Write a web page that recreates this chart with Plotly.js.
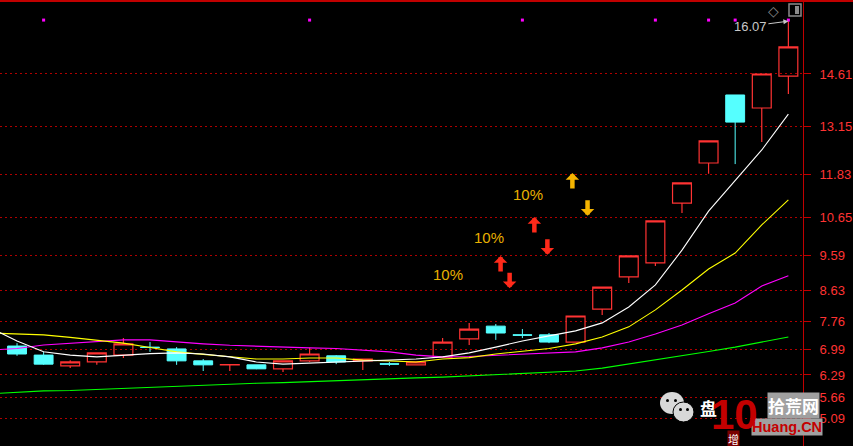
<!DOCTYPE html>
<html><head><meta charset="utf-8">
<script src="https://cdn.plot.ly/plotly-3.0.1.min.js"></script>
<style>html,body{margin:0;padding:0;background:#000;overflow:hidden}#chart{width:853px;height:446px}</style>
</head><body><div id="chart"></div>
<script>
// ---- data ----
const candleIdx = [0,1,2,3,4,5,6,7,8,9,10,11,12,13,14,15,16,17,18,19,20,21,22,23,24,25,26,27,28,29];
const openP  = [7.09,6.84,6.54,6.65,6.84,7.06,7.01,6.68,6.57,6.57,6.46,6.68,6.82,6.68,6.60,6.57,6.78,7.29,7.64,7.40,7.40,7.20,8.11,9.00,9.39,11.04,12.15,14.03,13.67,14.55];
const closeP = [6.87,6.59,6.65,6.90,7.15,7.05,6.68,6.57,6.58,6.46,6.68,6.87,6.65,6.73,6.59,6.65,7.20,7.56,7.45,7.39,7.20,7.92,8.72,9.58,10.55,11.60,12.76,13.28,14.61,15.36];
const highP  = [7.17,6.93,6.70,6.90,7.31,7.20,7.06,6.73,6.58,6.57,6.68,7.04,6.84,6.73,6.65,6.65,7.31,7.73,7.70,7.56,7.45,7.92,8.72,9.58,10.55,11.60,12.76,14.03,14.61,16.07];
const lowP   = [6.82,6.57,6.48,6.57,6.76,6.93,6.57,6.40,6.40,6.45,6.37,6.65,6.59,6.43,6.54,6.57,6.78,7.12,7.26,7.31,7.17,7.20,7.95,8.83,9.30,10.77,11.85,12.12,12.73,14.06];

const maIdx = [-1,0,1,2,3,4,5,6,7,8,9,10,11,12,13,14,15,16,17,18,19,20,21,22,23,24,25,26,27,28,29];
const maWhite   = [7.59,7.23,6.93,6.84,6.79,6.84,6.88,6.90,6.87,6.79,6.65,6.59,6.62,6.65,6.68,6.70,6.73,6.79,6.90,7.06,7.23,7.37,7.51,7.73,8.17,8.78,9.74,10.82,11.68,12.51,13.50];
const maYellow  = [7.45,7.42,7.40,7.33,7.26,7.17,7.05,6.93,6.86,6.79,6.73,6.73,6.76,6.76,6.70,6.68,6.65,6.73,6.77,6.87,6.95,7.02,7.15,7.34,7.62,8.09,8.64,9.22,9.66,10.44,11.13];
const maMagenta = [6.98,7.02,7.12,7.16,7.22,7.26,7.26,7.20,7.15,7.11,7.08,7.06,7.04,7.02,6.98,6.93,6.84,6.79,6.80,6.83,6.86,6.88,6.93,7.04,7.20,7.42,7.67,7.98,8.28,8.75,9.03];
const maGreen   = [5.77,5.81,5.85,5.86,5.89,5.92,5.94,5.97,6.00,6.03,6.06,6.08,6.11,6.14,6.17,6.18,6.21,6.23,6.26,6.29,6.33,6.37,6.40,6.48,6.59,6.70,6.82,6.94,7.06,7.20,7.34];

const dotIdx = [1,11,19,24,26,27,29];
const dotLevel = [16.10,16.10,16.10,16.10,16.10,16.10,16.10];

const tickVals = [14.61,13.15,11.83,10.65,9.59,8.63,7.76,6.99,6.29,5.66,5.09];
const tickText = ['14.61','13.15','11.83','10.65','9.59','8.63','7.76','6.99','6.29','5.66','5.09'];

const pctX = [16.20,17.74,19.21];
const pctY = [9.08,10.10,11.29];
const pctText = ['10%','10%','10%'];
const redUpX = [18.18,19.45],  redUpY = [9.58,10.66];
const redDownX = [18.52,19.94], redDownY = [8.69,9.61];
const goldUpX = [20.88], goldUpY = [11.87];
const goldDownX = [21.45], goldDownY = [10.69];
const peakIdx = 29, peakVal = 16.07, peakText = '16.07';

// ---- chart ----
const RED = '#ff3333', CYAN = '#55ffff', GRID = '#b00000';
const traces = [
  {type:'candlestick', x:candleIdx, open:openP, high:highP, low:lowP, close:closeP,
   increasing:{line:{color:RED,width:1.2}, fillcolor:'rgba(0,0,0,0)'},
   decreasing:{line:{color:CYAN,width:1}, fillcolor:CYAN},
   whiskerwidth:0, hoverinfo:'skip', showlegend:false},
  {type:'scatter', mode:'lines', x:maIdx, y:maGreen, line:{color:'#00ff00',width:1.1}, hoverinfo:'skip'},
  {type:'scatter', mode:'lines', x:maIdx, y:maMagenta, line:{color:'#ff00ff',width:1.1}, hoverinfo:'skip'},
  {type:'scatter', mode:'lines', x:maIdx, y:maYellow, line:{color:'#ffff00',width:1.1}, hoverinfo:'skip'},
  {type:'scatter', mode:'lines', x:maIdx, y:maWhite, line:{color:'#ffffff',width:1.1}, hoverinfo:'skip'},
  {type:'scatter', mode:'markers', x:dotIdx, y:dotLevel, marker:{symbol:'square',size:3,color:'#ff00ff'}, hoverinfo:'skip'}
];

const ann = [];
pctX.forEach((x,i)=>ann.push({x:x,y:pctY[i],text:pctText[i],showarrow:false,xanchor:'center',yanchor:'middle',
  font:{family:'Liberation Sans, Arial',size:15,color:'#e8b000'}}));
function arrow(x,y,up,color){
  ann.push({x:x,y:y,ax:0,ay:up?17:-17,text:'',showarrow:true,arrowhead:1,
    arrowsize:0.5,arrowwidth:4.5,arrowcolor:color,standoff:0,startstandoff:0});
}
redUpX.forEach((x,i)=>arrow(x,redUpY[i],true,'#ff2a1a'));
redDownX.forEach((x,i)=>arrow(x,redDownY[i],false,'#ff2a1a'));
goldUpX.forEach((x,i)=>arrow(x,goldUpY[i],true,'#f5b400'));
goldDownX.forEach((x,i)=>arrow(x,goldDownY[i],false,'#f5b400'));
ann.push({x:peakIdx,y:peakVal,ax:-38,ay:5,text:peakText,showarrow:true,arrowhead:2,arrowsize:1,
  arrowwidth:1,arrowcolor:'#c8c8c8',font:{family:'Liberation Sans, Arial',size:13,color:'#c8c8c8'}});

// helpers for paper placement
const W = 803, H = 446;
const px = v => v / W, py = v => 1 - v / H;
function ptext(x,y,text,font,extra){
  ann.push(Object.assign({xref:'paper',yref:'paper',x:px(x),y:py(y),text:text,showarrow:false,
    xanchor:'center',yanchor:'middle',font:font},extra||{}));
}
ptext(773,11,'◇',{family:'DejaVu Sans',size:14,color:'#8a8a8a'});

// watermark
ptext(708,407,'<b>盘</b>',{family:'Noto Sans CJK SC',size:17,color:'#ffffff'});
ptext(793,405,'<b>拾荒网</b>',{family:'Noto Sans CJK SC',size:17,color:'#ffffff'},{bgcolor:'#a0a0a0',borderpad:0});
ptext(787,427,'<b>Huang.CN</b>',{family:'Liberation Sans, Arial',size:14.5,color:'#c40000'},{bgcolor:'#a0a0a0',borderpad:0});
ptext(734,414,'<b>10</b>',{family:'Liberation Sans, Arial',size:42,color:'#c40000'});
ptext(733,439,'增',{family:'Noto Sans CJK SC',size:11,color:'#ffffff'},{bgcolor:'#7a0000',borderpad:0});

const shapes = [
  {type:'line',xref:'paper',yref:'paper',x0:0,x1:853/W,y0:py(1),y1:py(1),line:{color:'#c00000',width:2}},
  {type:'rect',xref:'paper',yref:'paper',x0:px(789),x1:px(801),y0:py(16),y1:py(4),line:{color:'#8a8a8a',width:1.5}},
  {type:'rect',xref:'paper',yref:'paper',x0:px(795),x1:px(799),y0:py(14),y1:py(6),fillcolor:'#8a8a8a',line:{width:0}},
  {type:'circle',xref:'paper',yref:'paper',x0:px(660),x1:px(684),y0:py(414),y1:py(392),fillcolor:'#d8d8d8',line:{width:0}},
  {type:'circle',xref:'paper',yref:'paper',x0:px(673),x1:px(694),y0:py(422),y1:py(402),fillcolor:'#d8d8d8',line:{color:'#000',width:1}},
  {type:'circle',xref:'paper',yref:'paper',x0:px(666),x1:px(669),y0:py(402),y1:py(399),fillcolor:'#000',line:{width:0}},
  {type:'circle',xref:'paper',yref:'paper',x0:px(674),x1:px(677),y0:py(402),y1:py(399),fillcolor:'#000',line:{width:0}},
  {type:'circle',xref:'paper',yref:'paper',x0:px(679),x1:px(682),y0:py(411),y1:py(408),fillcolor:'#000',line:{width:0}},
  {type:'circle',xref:'paper',yref:'paper',x0:px(686),x1:px(689),y0:py(411),y1:py(408),fillcolor:'#000',line:{width:0}}
];

const layout = {
  width:853, height:446, paper_bgcolor:'#000', plot_bgcolor:'#000',
  margin:{l:0,r:50,t:0,b:0}, showlegend:false, boxgap:0.29, boxgroupgap:0, dragmode:false,
  font:{family:'Liberation Sans, Arial',color:RED},
  xaxis:{range:[-0.64,29.55], showgrid:false, zeroline:false, showticklabels:false, ticks:'',
         rangeslider:{visible:false}, fixedrange:true},
  yaxis:{side:'right', range:[4.327,16.655], tickmode:'array', tickvals:tickVals, ticktext:tickText,
         showgrid:true, gridcolor:GRID, griddash:'2px,3px', gridwidth:1, zeroline:false,
         showline:true, linecolor:'#c00000', linewidth:1, ticks:'outside', ticklen:7, tickcolor:'#c00000',
         ticklabelstandoff:6, tickfont:{family:'Liberation Sans, Arial',size:13,color:RED}, fixedrange:true},
  annotations:ann, shapes:shapes
};
Plotly.newPlot('chart', traces, layout, {displayModeBar:false, staticPlot:true});
</script>
</body></html>
